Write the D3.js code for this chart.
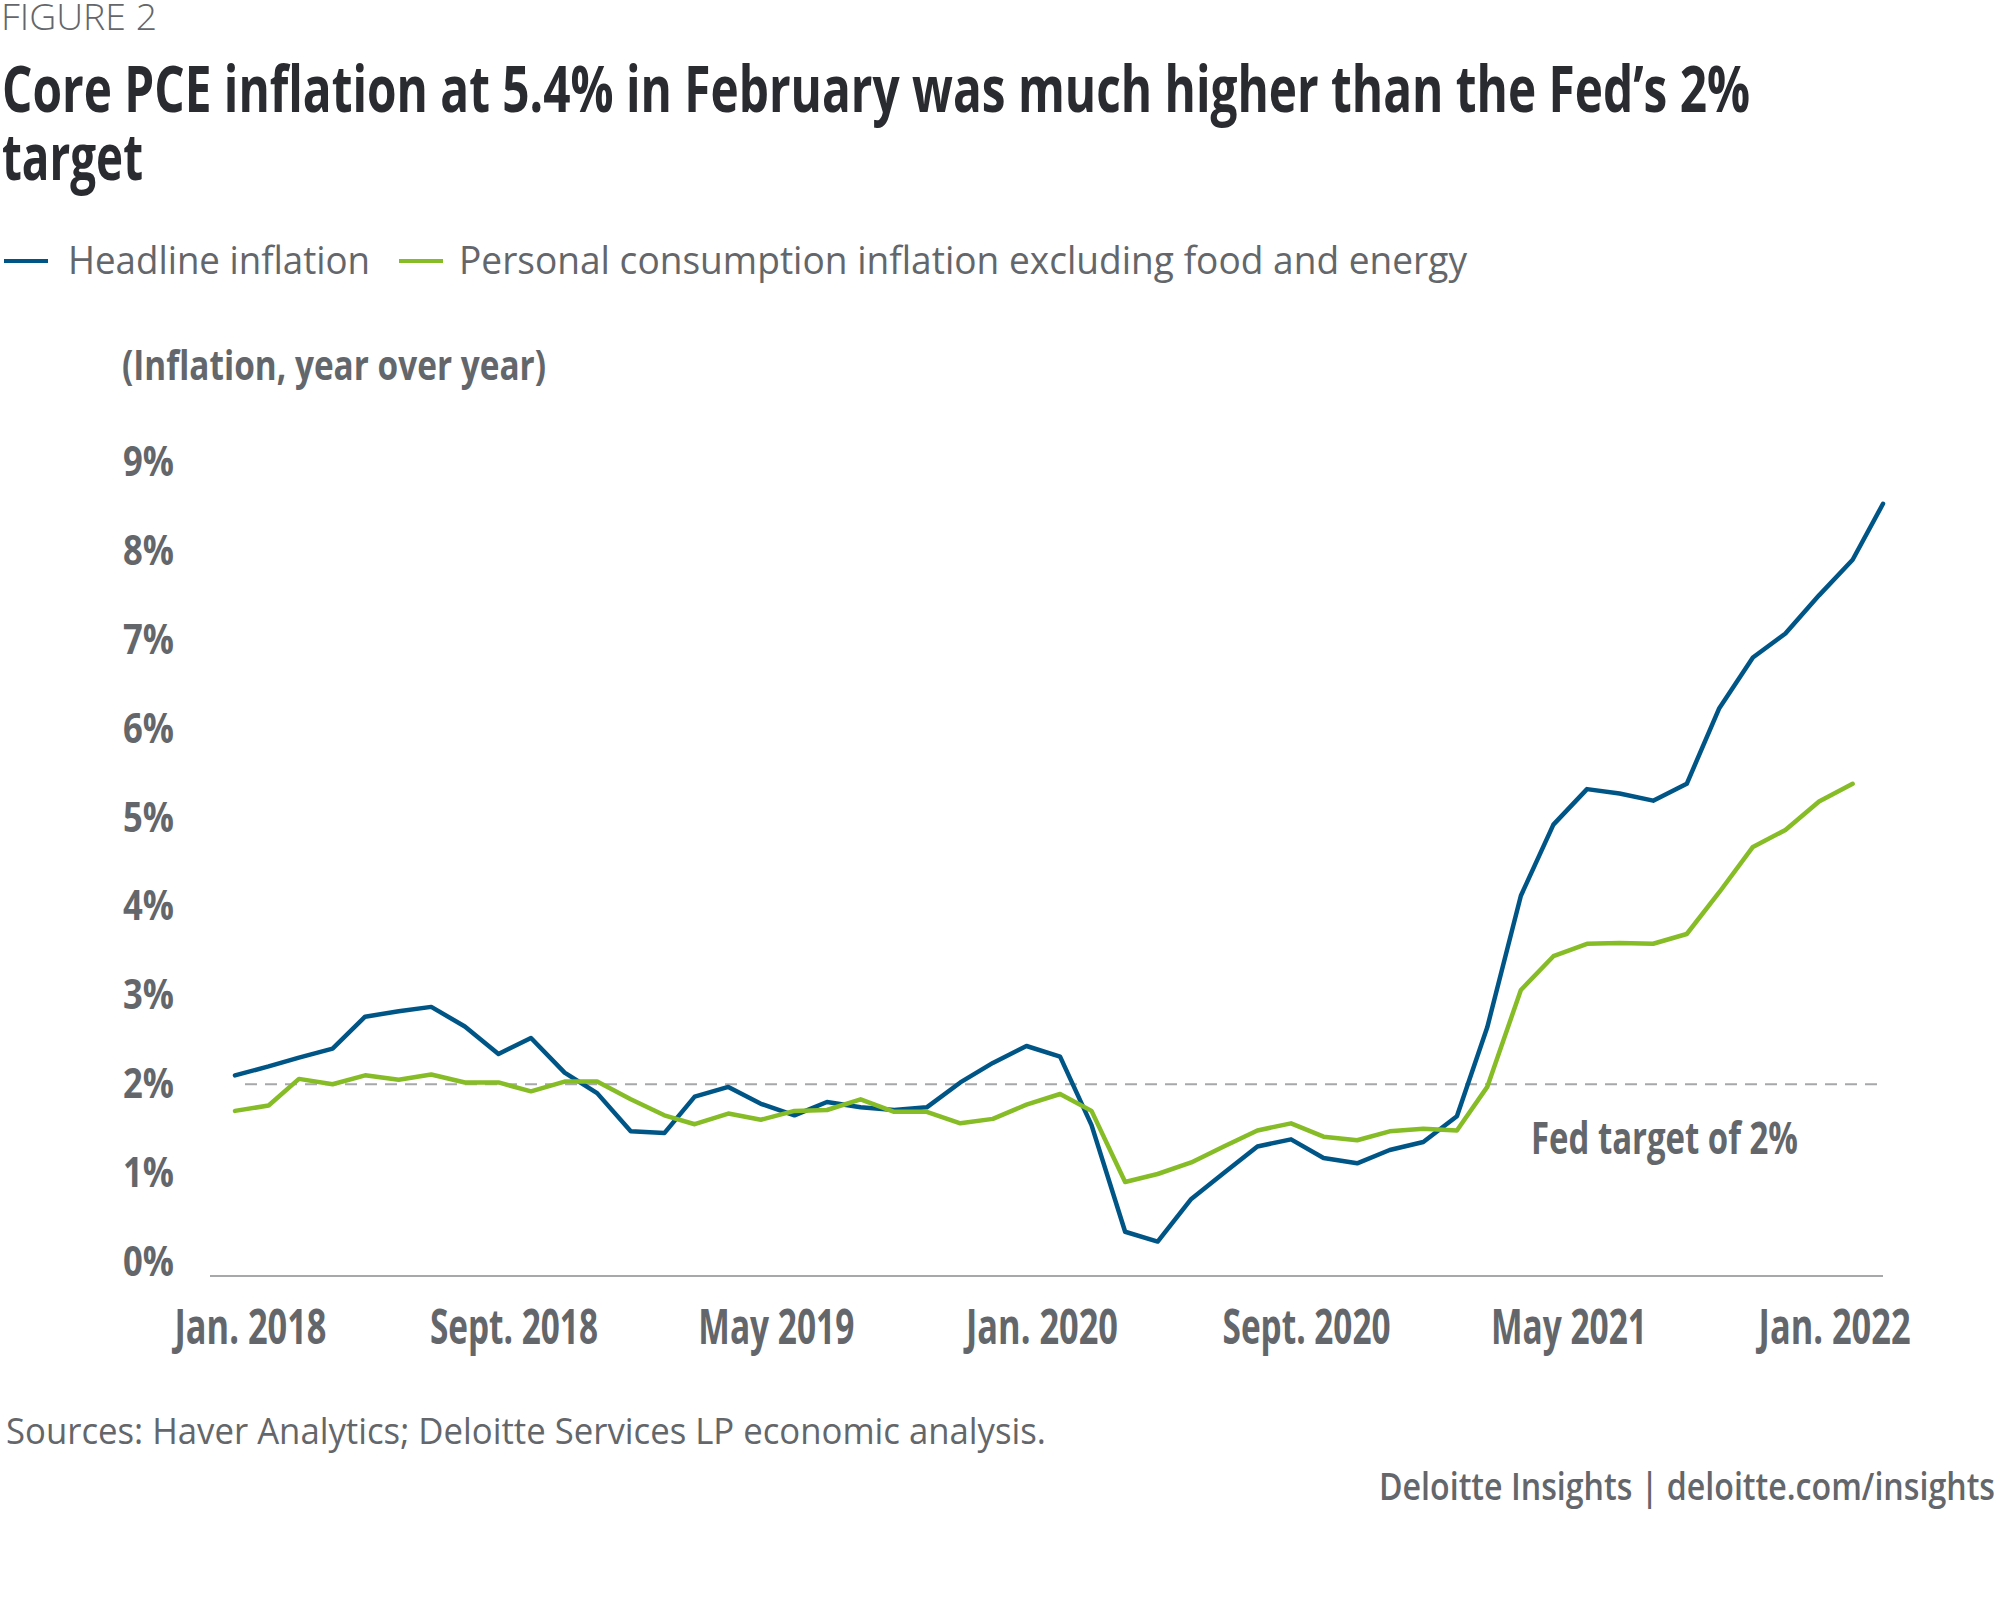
<!DOCTYPE html>
<html>
<head>
<meta charset="utf-8">
<script src="https://cdn.jsdelivr.net/npm/d3@7"></script>
<style>
  body { margin: 0; background: #fff; }
  svg text { font-family: "Open Sans", "DejaVu Sans", sans-serif; }
</style>
</head>
<body>
<script>
// Months shown on the chart (categories)
const startMonth = new Date(2018, 0, 1);
const endMonth = new Date(2022, 2, 1);
const months = d3.timeMonths(startMonth, new Date(2022, 3, 1));

// Headline inflation, Jan. 2018 - Mar. 2022
const headline = [
  2.1, 2.2, 2.3, 2.4, 2.76, 2.82, 2.87, 2.65, 2.34, 2.52, 2.13, 1.9,
  1.47, 1.45, 1.86, 1.97, 1.78, 1.65, 1.8, 1.74, 1.71, 1.74, 2.02, 2.24,
  2.43, 2.31, 1.54, 0.34, 0.23, 0.71, 1.0, 1.3, 1.38, 1.17, 1.11, 1.26,
  1.35, 1.64, 2.64, 4.12, 4.92, 5.32, 5.27, 5.19, 5.38, 6.23, 6.8, 7.07,
  7.5, 7.9, 8.53
];
// Core PCE, Jan. 2018 - Feb. 2022
const corePce = [
  1.7, 1.76, 2.06, 2.0, 2.1, 2.05, 2.11, 2.02, 2.02, 1.92, 2.03, 2.03,
  1.83, 1.65, 1.55, 1.67, 1.6, 1.7, 1.71, 1.83, 1.69, 1.69, 1.56, 1.61,
  1.77, 1.89, 1.7, 0.9, 0.99, 1.12, 1.3, 1.48, 1.56, 1.41, 1.37, 1.47,
  1.5, 1.48, 1.97, 3.06, 3.44, 3.58, 3.59, 3.58, 3.69, 4.16, 4.67, 4.86,
  5.18, 5.38
];
const seriesNames = ["Headline inflation", "Personal consumption inflation excluding food and energy"];
const seriesColors = ["#005587", "#86bc25"];

// Axis ticks
const yTicks = [0, 1, 2, 3, 4, 5, 6, 7, 8, 9];
const xTickDates = [new Date(2018, 0, 1), new Date(2018, 8, 1), new Date(2019, 4, 1),
  new Date(2020, 0, 1), new Date(2020, 8, 1), new Date(2021, 4, 1), new Date(2022, 0, 1)];
const xTickLabels = ["Jan. 2018", "Sept. 2018", "May 2019", "Jan. 2020", "Sept. 2020", "May 2021", "Jan. 2022"];
const fedTarget = 2;

const w = 2000;
const h = 1606;
const grey = "#63666a";
const dark = "#2a2b30";

const svg = d3.select("body")
  .append("svg")
  .attr("width", w)
  .attr("height", h);

// Scales
const xScale = d3.scaleTime()
  .domain([startMonth, endMonth])
  .range([235, 1883]);
const yScale = d3.scaleLinear()
  .domain([0, 9])
  .range([1262, 462]);

// Figure label and title
svg.append("text")
  .text("FIGURE 2")
  .attr("x", 1).attr("y", 30)
  .attr("font-size", 36).attr("font-weight", 300)
  .attr("textLength", 156).attr("lengthAdjust", "spacingAndGlyphs")
  .attr("fill", grey);

svg.append("text")
  .text("Core PCE inflation at 5.4% in February was much higher than the Fed\u2019s 2%")
  .attr("x", 2).attr("y", 112)
  .attr("font-size", 64).attr("font-weight", 700)
  .attr("textLength", 1748).attr("lengthAdjust", "spacingAndGlyphs")
  .attr("fill", dark);
svg.append("text")
  .text("target")
  .attr("x", 2).attr("y", 180)
  .attr("font-size", 64).attr("font-weight", 700)
  .attr("textLength", 141).attr("lengthAdjust", "spacingAndGlyphs")
  .attr("fill", dark);

// Legend
const legendX = [[4, 68, 302], [399, 459, 1008]];
seriesNames.forEach((name, i) => {
  svg.append("line")
    .attr("x1", legendX[i][0]).attr("x2", legendX[i][0] + 44)
    .attr("y1", 261).attr("y2", 261)
    .attr("stroke", seriesColors[i]).attr("stroke-width", 4);
  svg.append("text")
    .text(name)
    .attr("x", legendX[i][1]).attr("y", 274)
    .attr("font-size", 38).attr("font-weight", 400)
    .attr("textLength", legendX[i][2]).attr("lengthAdjust", "spacingAndGlyphs")
    .attr("fill", grey);
});

// Y axis title
svg.append("text")
  .text("(Inflation, year over year)")
  .attr("x", 122).attr("y", 380)
  .attr("font-size", 42).attr("font-weight", 700)
  .attr("textLength", 424).attr("lengthAdjust", "spacingAndGlyphs")
  .attr("fill", grey);

// Y axis
const yAxis = d3.axisLeft(yScale)
  .tickValues(yTicks)
  .tickFormat(d => d + "%")
  .tickSize(0)
  .tickPadding(0);
const yAxisG = svg.append("g")
  .attr("transform", "translate(174,0)")
  .call(yAxis);
yAxisG.select(".domain").remove();
yAxisG.selectAll("text")
  .attr("font-size", 42).attr("font-weight", 700)
  .attr("fill", grey)
  .style("font-family", "'Open Sans', sans-serif")
  .attr("textLength", 51).attr("lengthAdjust", "spacingAndGlyphs");

// X axis (baseline line sits a bit under zero)
const xAxis = d3.axisBottom(xScale)
  .tickValues(xTickDates)
  .tickFormat((d, i) => xTickLabels[i])
  .tickSize(0);
const xAxisG = svg.append("g")
  .attr("transform", "translate(0,1276)")
  .call(xAxis);
xAxisG.select(".domain").remove();
xAxisG.selectAll("text")
  .attr("dy", null).attr("y", 68).attr("dx", 15)
  .attr("font-size", 48).attr("font-weight", 700)
  .attr("fill", grey)
  .style("font-family", "'Open Sans', sans-serif")
  .attr("textLength", (d, i) => xTickLabels[i].startsWith("Sept") ? 168 : (xTickLabels[i].startsWith("May") ? 156 : 152))
  .attr("lengthAdjust", "spacingAndGlyphs");

svg.append("line")
  .attr("x1", 210).attr("x2", xScale(endMonth))
  .attr("y1", 1276).attr("y2", 1276)
  .attr("stroke", "#a7a8aa").attr("stroke-width", 2);

// Fed target dashed line
svg.append("line")
  .attr("x1", 245).attr("x2", xScale(endMonth))
  .attr("y1", yScale(fedTarget)).attr("y2", yScale(fedTarget))
  .attr("stroke", "#a7a8aa").attr("stroke-width", 2)
  .attr("stroke-dasharray", "12,8");

svg.append("text")
  .text("Fed target of 2%")
  .attr("x", 1531).attr("y", 1154)
  .attr("font-size", 45).attr("font-weight", 700)
  .attr("textLength", 267).attr("lengthAdjust", "spacingAndGlyphs")
  .attr("fill", grey);

// Lines
const line = d3.line()
  .x((d, i) => xScale(months[i]))
  .y(d => yScale(d));

[headline, corePce].forEach((values, i) => {
  svg.append("path")
    .datum(values)
    .attr("d", line)
    .attr("fill", "none")
    .attr("stroke", seriesColors[i])
    .attr("stroke-width", 4.5)
    .attr("stroke-linejoin", "round")
    .attr("stroke-linecap", "round");
});

// Footer
svg.append("text")
  .text("Sources: Haver Analytics; Deloitte Services LP economic analysis.")
  .attr("x", 6).attr("y", 1444)
  .attr("font-size", 37).attr("font-weight", 400)
  .attr("textLength", 1040).attr("lengthAdjust", "spacingAndGlyphs")
  .attr("fill", grey);

svg.append("text")
  .text("Deloitte Insights | deloitte.com/insights")
  .attr("x", 1379).attr("y", 1500)
  .attr("font-size", 37).attr("font-weight", 600)
  .attr("textLength", 616).attr("lengthAdjust", "spacingAndGlyphs")
  .attr("fill", grey);
</script>
</body>
</html>
